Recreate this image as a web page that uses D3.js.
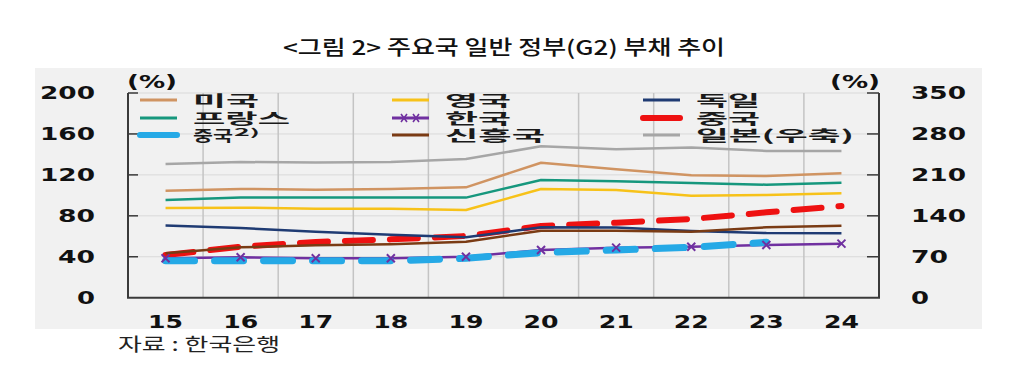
<!DOCTYPE html>
<html><head><meta charset="utf-8">
<script src="https://cdn.jsdelivr.net/npm/d3@7"></script>
<style>body{margin:0;background:#fff;} svg{display:block;}</style>
</head><body>
<svg id="chart" width="1009" height="382"></svg>
<script>
const years = ["15","16","17","18","19","20","21","22","23","24"];
const leftTicks = [0,40,80,120,160,200];
const rightTicks = [0,70,140,210,280,350];
const us       = [104.6,106.3,105.5,106.2,107.8,131.9,125.4,119.6,118.9,121.5];
const uk       = [87.6,88.0,87.0,87.0,85.7,106.2,105.2,99.7,100.3,102.0];
const germany  = [70.5,68.0,64.5,61.5,59.0,68.8,68.5,65.2,63.2,63.0];
const france   = [95.5,98.0,98.0,98.0,97.8,115.0,113.7,112.0,110.4,112.4];
const korea    = [38.5,39.5,38.5,38.5,40.0,46.6,48.9,49.8,51.5,52.8];
const china    = [41.7,49.8,54.4,57.0,60.3,70.0,73.3,76.9,83.4,89.6];
const china2   = [36.2,36.2,36.0,36.0,38.5,44.0,46.6,49.2,54.1,null];
const emerging = [43.4,49.2,51.2,52.2,54.7,65.5,65.5,64.5,68.8,70.4];
const japan    = [228.6,232,231,232,237,259,254,257,251,251];

const svg = d3.select("#chart");
const L=128, R=879, T=93, B=297.7;
svg.append("rect").attr("x",35).attr("y",68).attr("width",947).attr("height",261).attr("fill","#f1f1f1");

const x = d3.scaleBand().domain(years).range([L,R]);
const cx = d => x(d)+x.bandwidth()/2;
const yL = d3.scaleLinear().domain([0,200]).range([B,T]);
const yR = d3.scaleLinear().domain([0,350]).range([B,T]);

// grid
svg.append("g").selectAll("line").data(leftTicks.slice(1)).join("line")
  .attr("x1",L).attr("x2",R).attr("y1",d=>yL(d)).attr("y2",d=>yL(d))
  .attr("stroke","#d9d9d9").attr("stroke-width",1);
svg.append("g").selectAll("line").data(years.slice(1)).join("line")
  .attr("x1",d=>x(d)).attr("x2",d=>x(d)).attr("y1",T).attr("y2",B)
  .attr("stroke","#c4c4c4").attr("stroke-width",1.5);

// axes
const ax = svg.append("g").attr("stroke","#3a3a3a").attr("stroke-width",2);
ax.append("line").attr("x1",L).attr("x2",L).attr("y1",T).attr("y2",B);
ax.append("line").attr("x1",R).attr("x2",R).attr("y1",T).attr("y2",B);
ax.append("line").attr("x1",L-1).attr("x2",R+1).attr("y1",B).attr("y2",B);
ax.selectAll(".tl").data(leftTicks.slice(1)).join("line")
  .attr("x1",L).attr("x2",L+10).attr("y1",d=>yL(d)).attr("y2",d=>yL(d)).attr("stroke-width",1.5);
ax.selectAll(".tr").data(rightTicks.slice(1)).join("line")
  .attr("x1",R-12).attr("x2",R).attr("y1",d=>yR(d)).attr("y2",d=>yR(d)).attr("stroke-width",1.5);

const numFont = "'DejaVu Sans', sans-serif";
const tl = s => s.length*18 + (s.length>1?1:0);
svg.append("g").selectAll("text").data(leftTicks).join("text")
  .attr("x",95).attr("y",d=>yL(d)).attr("dy","0.36em").attr("text-anchor","end")
  .attr("font-family",numFont).attr("font-weight","bold").attr("font-size",18).attr("fill","#111")
  .attr("textLength",d=>tl(String(d))).attr("lengthAdjust","spacingAndGlyphs").text(d=>d);
svg.append("g").selectAll("text").data(rightTicks).join("text")
  .attr("x",911).attr("y",d=>yR(d)).attr("dy","0.36em").attr("text-anchor","start")
  .attr("font-family",numFont).attr("font-weight","bold").attr("font-size",18).attr("fill","#111")
  .attr("textLength",d=>tl(String(d))).attr("lengthAdjust","spacingAndGlyphs").text(d=>d);
svg.append("g").selectAll("text").data(years).join("text")
  .attr("x",d=>cx(d)).attr("y",328).attr("text-anchor","middle")
  .attr("font-family",numFont).attr("font-weight","bold").attr("font-size",17).attr("fill","#111")
  .attr("textLength",35).attr("lengthAdjust","spacingAndGlyphs").text(d=>d);
[[127,"(%)"],[830,"(%)"]].forEach(([px,t])=>{
  svg.append("text").attr("x",px).attr("y",88).attr("font-family",numFont).attr("font-weight","bold")
    .attr("font-size",17).attr("fill","#111").attr("textLength",50).attr("lengthAdjust","spacingAndGlyphs").text(t);
});

// lines
const line = sc => d3.line().defined(d=>d[1]!=null).x(d=>cx(d[0])).y(d=>sc(d[1]));
const zip = arr => years.map((y,i)=>[y,arr[i]]);
function draw(arr, sc, color, w, dash){
  const p = svg.append("path").datum(zip(arr)).attr("d",line(sc)).attr("fill","none")
    .attr("stroke",color).attr("stroke-width",w).attr("stroke-linejoin","round");
  if(dash){p.attr("stroke-dasharray",dash).attr("stroke-linecap","round");}
  return p;
}
const C = {us:"#d09462",uk:"#f7c219",de:"#1f3b73",fr:"#16977d",kr:"#7030a0",cn:"#ee1111",cn2:"#25a9e6",em:"#7a3b14",jp:"#a6a6a6"};
draw(japan, yR, C.jp, 2.5);
draw(us, yL, C.us, 2.5);
draw(france, yL, C.fr, 2.5);
draw(uk, yL, C.uk, 2.5);
draw(china, yL, C.cn, 6, "28,17");
draw(germany, yL, C.de, 2.5);
draw(emerging, yL, C.em, 2.5);
draw(korea, yL, C.kr, 2.5);
draw(china2, yL, C.cn2, 7, "29,20");
svg.append("g").selectAll("path").data(zip(korea)).join("path")
  .attr("d",d=>{const X=cx(d[0]),Y=yL(d[1]);return `M${X-4},${Y-4}L${X+4},${Y+4}M${X-4},${Y+4}L${X+4},${Y-4}`;})
  .attr("stroke",C.kr).attr("stroke-width",2).attr("fill","none");

// legend
const legendNames = ["미국","프랑스","중국","영국","한국","신흥국","독일","중국","일본(우축)"];
const legendColors = [C.us,C.fr,C.cn2,C.uk,C.kr,C.em,C.de,C.cn,C.jp];
const legendWidths = [3,3,6,3,3,3,3,6,3];
const legendLens = [66,97,40,66,66,100,64,64,158];
const colX = [140,392,643], rowY=[100,118,135];
const krFont = "'Noto Sans CJK KR', sans-serif";
legendNames.forEach((n,i)=>{
  const c=Math.floor(i/3), r=i%3, lx=colX[c], ly=rowY[r];
  svg.append("line").attr("x1",lx).attr("x2",lx+37).attr("y1",ly).attr("y2",ly)
    .attr("stroke",legendColors[i]).attr("stroke-width",legendWidths[i]).attr("stroke-linecap", legendWidths[i]>4?"round":"butt");
  if(i===4){
    [lx+12,lx+24].forEach(mx=>svg.append("path").attr("d",`M${mx-3},${ly-4}L${mx+3},${ly+4}M${mx-3},${ly+4}L${mx+3},${ly-4}`)
      .attr("stroke",C.kr).attr("stroke-width",1.6));
  }
  svg.append("text").attr("x",lx+53).attr("y",ly+6).attr("font-family",krFont).attr("font-weight","bold")
    .attr("font-size",15).attr("fill","#1a1a1a").attr("textLength",legendLens[i]).attr("lengthAdjust","spacingAndGlyphs").text(n);
  if(i===2){
    svg.append("text").attr("x",lx+94).attr("y",ly+1).attr("font-family",krFont).attr("font-weight","bold")
      .attr("font-size",10).attr("fill","#1a1a1a").attr("textLength",26).attr("lengthAdjust","spacingAndGlyphs").text("2)");
  }
});

// title & source
svg.append("text").attr("x",283).attr("y",55).attr("font-family",krFont).attr("font-weight",500).attr("font-size",20).attr("fill","#111")
  .attr("textLength",442).attr("lengthAdjust","spacingAndGlyphs").text("<그림 2> 주요국 일반 정부(G2) 부채 추이");
svg.append("text").attr("x",118).attr("y",351).attr("font-family",krFont).attr("font-size",18).attr("fill","#222")
  .attr("textLength",162).attr("lengthAdjust","spacingAndGlyphs").text("자료 : 한국은행");
</script>
</body></html>
